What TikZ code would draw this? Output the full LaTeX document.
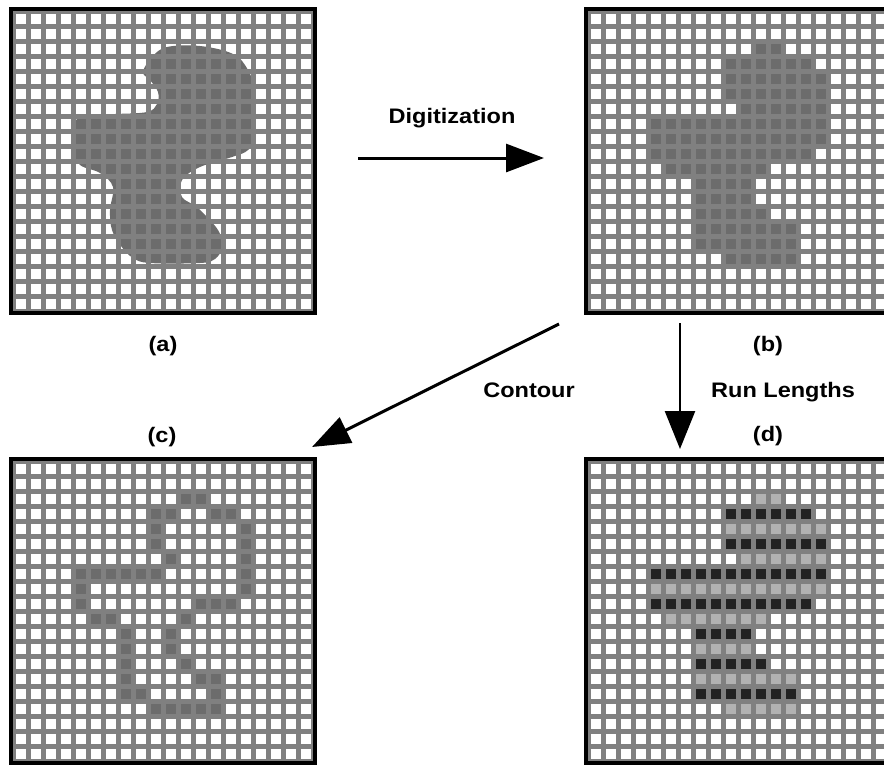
\documentclass[tikz,border=0pt]{standalone}
\usepackage{fontspec}
\newfontfamily\labfont{Liberation Sans}[FakeStretch=1.12]
\usetikzlibrary{arrows.meta}

\definecolor{gridgrey}{HTML}{808080}
\definecolor{shapegrey}{HTML}{6C6C6C}
\definecolor{runblack}{HTML}{222222}
\definecolor{runlight}{HTML}{B2B2B2}

\tikzset{
  gridline/.style={gridgrey, line width=5pt},
  frame/.style={black, line width=4pt},
  lab/.style={font=\labfont\bfseries\fontsize{21}{24}\selectfont, inner sep=0pt},
  bigarrow/.style={line width=3pt, -{Triangle[length=38pt,width=28pt]}},
}

% grid of 20 x 20 cells (15 units each) with its frame; #1,#2 = top-left corner
\newcommand\cellgrid[2]{%
  \foreach \k in {0,...,20} {
    \draw[gridline] ({#1+15*\k},#2) -- ({#1+15*\k},{#2+300});
    \draw[gridline] (#1,{#2+15*\k}) -- ({#1+300},{#2+15*\k});
  }
  \draw[frame] ({#1-2},{#2-2}) rectangle ({#1+302},{#2+302});
}

\begin{document}
\begin{tikzpicture}[x=1pt, y=-1pt]
\useasboundingbox (0,0) rectangle (884,764);
\clip (0,0) rectangle (884,764);
\fill[white] (0,0) rectangle (884,764);

% ---------- (a) continuous region ----------
\fill[shapegrey] plot[smooth cycle, tension=0.6] coordinates {
  (143,72) (152,57) (167,47) (200,46) (233,54) (248,70) (255,93) (255,135)
  (248,150) (232,157) (200,167) (182,180) (182,197) (198,208) (218,230)
  (222,247) (215,259) (200,263) (150,263) (133,258) (121,246) (112,230)
  (110,210) (113,187) (100,173) (80,165) (72,150) (72,130) (77,119)
  (90,115) (115,114) (147,112) (157,104) (158,92) (150,80)};
\cellgrid{13}{11}

% ---------- (b) digitized region ----------
\foreach \r/\a/\b in {2/11/12, 3/9/14, 4/9/15, 5/9/15, 6/10/15, 7/4/15, 8/4/15,
    9/4/14, 10/5/11, 11/7/10, 12/7/10, 13/7/11, 14/7/13, 15/7/13, 16/9/13} {
  \fill[shapegrey] ({588+15*\a},{11+15*\r}) rectangle ({588+15*(\b+1)},{11+15*(\r+1)});
}
\cellgrid{588}{11}

% ---------- (c) contour cells ----------
\foreach \r/\cs in {2/{11,12}, 3/{9,10,13,14}, 4/{9,15}, 5/{9,15}, 6/{10,15},
    7/{4,5,6,7,8,9,15}, 8/{4,15}, 9/{4,12,13,14}, 10/{5,6,11}, 11/{7,10},
    12/{7,10}, 13/{7,11}, 14/{7,12,13}, 15/{7,8,13}, 16/{9,10,11,12,13}} {
  \foreach \c in \cs {
    \fill[shapegrey] ({13+15*\c},{461+15*\r}) rectangle +(15,15);
  }
}
\cellgrid{13}{461}

% ---------- (d) run lengths ----------
\foreach \r/\a/\b in {2/11/12, 3/9/14, 4/9/15, 5/9/15, 6/10/15, 7/4/15, 8/4/15,
    9/4/14, 10/5/11, 11/7/10, 12/7/10, 13/7/11, 14/7/13, 15/7/13, 16/9/13} {
  \ifodd\r \def\runcol{runblack}\else \def\runcol{runlight}\fi
  \fill[\runcol] ({588+15*\a},{461+15*\r}) rectangle ({588+15*(\b+1)},{461+15*(\r+1)});
}
\cellgrid{588}{461}

% ---------- labels ----------
\node[lab] (digit) at (452,118) {Digitization};
\node[lab] (la) at (163,346) {(a)};
\node[lab] (lb) at (768,346) {(b)};
\node[lab] (contour) at (529,390) {Contour};
\node[lab] (runlen) at (783,392) {Run Lengths};
\node[lab] (lc) at (162,437) {(c)};
\node[lab] (ld) at (768,436) {(d)};

% ---------- arrows ----------
\coordinate (digS) at (358,158);
\coordinate (digE) at (544,158);
\coordinate (conS) at (559,324);
\coordinate (conE) at (312,447);
\coordinate (runS) at (680,323);
\coordinate (runE) at (680,449);
\draw[bigarrow] (digS) -- (digE);
\draw[bigarrow] (conS) -- (conE);
\draw[line width=2.5pt, -{Triangle[length=38pt,width=30pt]}] (runS) -- (runE);
\end{tikzpicture}
\end{document}
